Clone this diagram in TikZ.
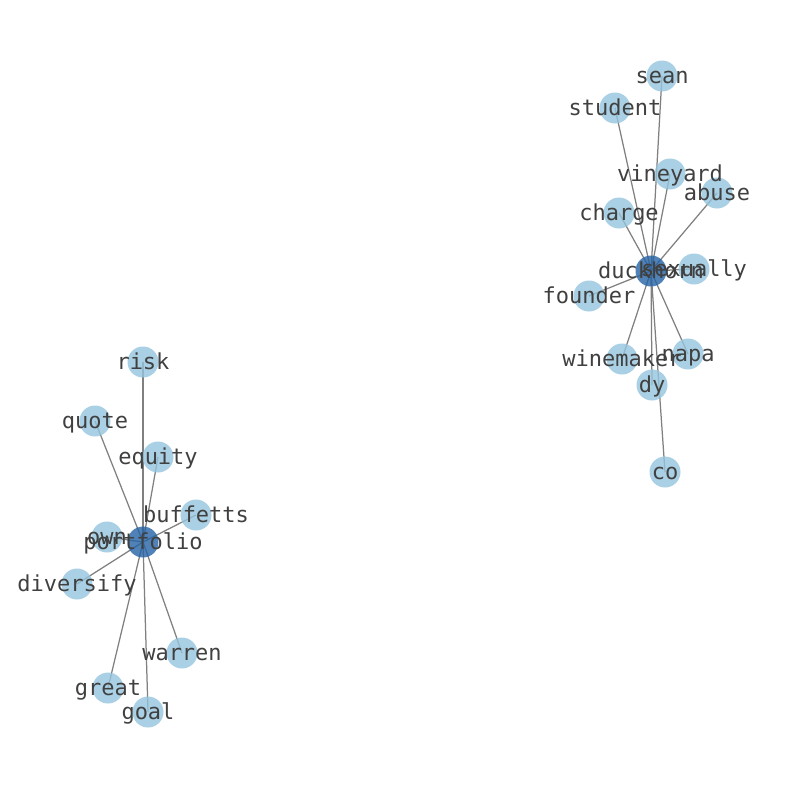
\documentclass[tikz,border=0pt]{standalone}
\usepackage{fontspec}
\newfontfamily\dvm{DejaVu Sans Mono}
\definecolor{leafc}{RGB}{148,196,221}
\definecolor{hubc}{RGB}{36,98,165}
\definecolor{edgec}{RGB}{128,128,128}
\definecolor{txtc}{RGB}{64,64,64}
\tikzset{
  leaf/.style={circle, fill=leafc, fill opacity=0.8, draw=none, minimum size=31pt, inner sep=0pt},
  hub/.style={circle, fill=hubc, fill opacity=0.8, draw=none, minimum size=31pt, inner sep=0pt},
  edge/.style={draw=edgec, line width=1.25pt},
  lbl/.style={anchor=base, inner sep=0pt, text=txtc, font=\dvm\fontsize{22}{22}\selectfont}
}
\begin{document}
\begin{tikzpicture}[x=1pt,y=-1pt]
\useasboundingbox (0,0) rectangle (794,790);
% hub positions
\coordinate (duckhornp) at (651,271);
\coordinate (portfoliop) at (143,542);
% edges (drawn first)
\foreach \n/\x/\y in {sean/662/76, student/615/108, vineyard/670/174, abuse/717/193, charge/619/213, sexually/694/269, founder/589/296, winemaker/622/359, napa/688/354, dy/652/385, co/665/472}{
  \coordinate (\n p) at (\x,\y);
  \draw[edge] (duckhornp) -- (\n p);
}
\foreach \n/\x/\y in {risk/143/362, quote/95/421, equity/158/457, buffetts/196/515, own/107/537, diversify/77/584, warren/182/653, great/108/688, goal/148/712}{
  \coordinate (\n p) at (\x,\y);
  \draw[edge] (portfoliop) -- (\n p);
}
% nodes
\foreach \n in {sean, student, vineyard, abuse, charge, sexually, founder, winemaker, napa, dy, co, risk, quote, equity, buffetts, own, diversify, warren, great, goal}{
  \node[leaf] (\n) at (\n p) {};
}
\node[hub] (duckhorn) at (duckhornp) {};
\node[hub] (portfolio) at (portfoliop) {};
% labels
\foreach \n in {sean, student, vineyard, abuse, charge, founder, winemaker, napa, dy, co, risk, quote, equity, buffetts, own, diversify, warren, great, goal, duckhorn, sexually, portfolio}{
  \node[lbl] (l-\n) at ([yshift=-7.5pt]\n.center) {\n};
}
\end{tikzpicture}
\end{document}
